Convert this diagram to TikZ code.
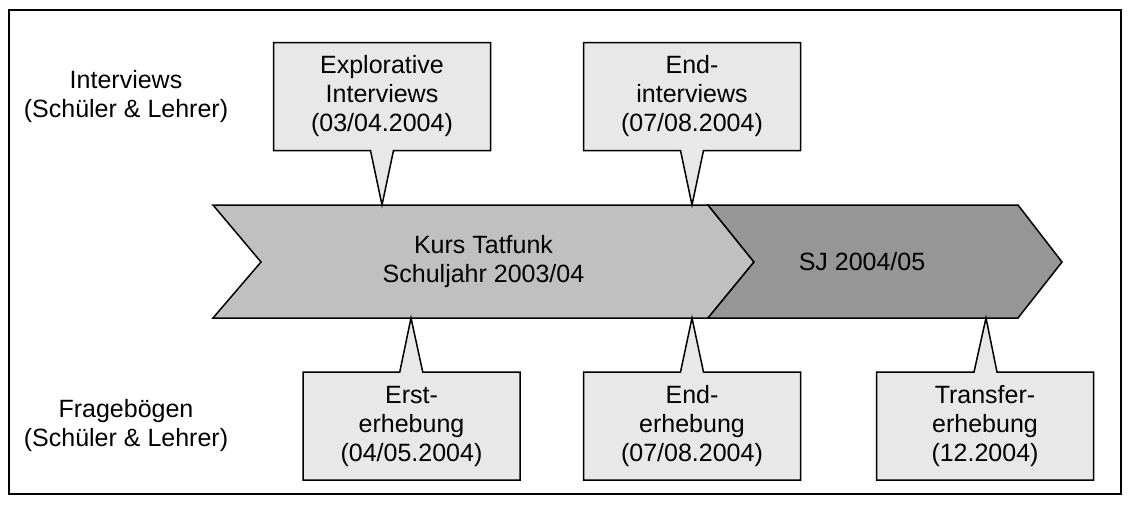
\documentclass[tikz,border=0pt]{standalone}
\usepackage{fontspec}
\setmainfont{Liberation Sans}
\usetikzlibrary{shapes.callouts}
\definecolor{callfill}{HTML}{E8E8E8}
\definecolor{chevA}{HTML}{C0C0C0}
\definecolor{chevB}{HTML}{969696}
\begin{document}
\begin{tikzpicture}[x=1pt,y=-1pt,
  every node/.style={font=\fontsize{25}{29}\selectfont, align=center, inner sep=0pt},
  callbox/.style={rectangle callout, draw=black, line width=1.5pt, fill=callfill,
    minimum width=217pt, minimum height=108pt, callout pointer width=23pt},
  chevron/.style={draw=black, line width=1.5pt, line join=miter},
  sidelabel/.style={}
]
\useasboundingbox (0,0) rectangle (1130,504);
\draw[line width=2pt] (9,10) rectangle (1121,494);

% chevrons
\draw[chevron, fill=chevA] (213,205) -- (708,205) -- (754,262) -- (708,318) -- (213,318) -- (261,262) -- cycle;
\draw[chevron, fill=chevB] (708,205) -- (1018,205) -- (1062,262) -- (1018,318) -- (708,318) -- (754,262) -- cycle;
\node (kurs) at (483.5,262) {Kurs Tatfunk\\Schuljahr 2003/04};
\node (sj) at (862,262) {SJ 2004/05};

% pointer targets
\coordinate (t1) at (382,205);
\coordinate (t2) at (692,205);
\coordinate (b1) at (411,318);
\coordinate (b2) at (692,318);
\coordinate (b3) at (986,318);

% side labels
\node[sidelabel] (li) at (126,96.5) {Interviews\\(Schüler \& Lehrer)};
\node[sidelabel] (lf) at (126,426) {Fragebögen\\(Schüler \& Lehrer)};

% callouts
\node[callbox, callout absolute pointer={(t1)}] (expl) at (382,96.5) {Explorative\\Interviews\\(03/04.2004)};
\node[callbox, callout absolute pointer={(t2)}] (endi) at (692,96.5) {End-\\interviews\\(07/08.2004)};
\node[callbox, callout absolute pointer={(b1)}] (erst) at (411.5,426) {Erst-\\erhebung\\(04/05.2004)};
\node[callbox, callout absolute pointer={(b2)}] (ende) at (692,426) {End-\\erhebung\\(07/08.2004)};
\node[callbox, callout absolute pointer={(b3)}] (trans) at (985,426) {Transfer-\\erhebung\\(12.2004)};
\end{tikzpicture}
\end{document}
